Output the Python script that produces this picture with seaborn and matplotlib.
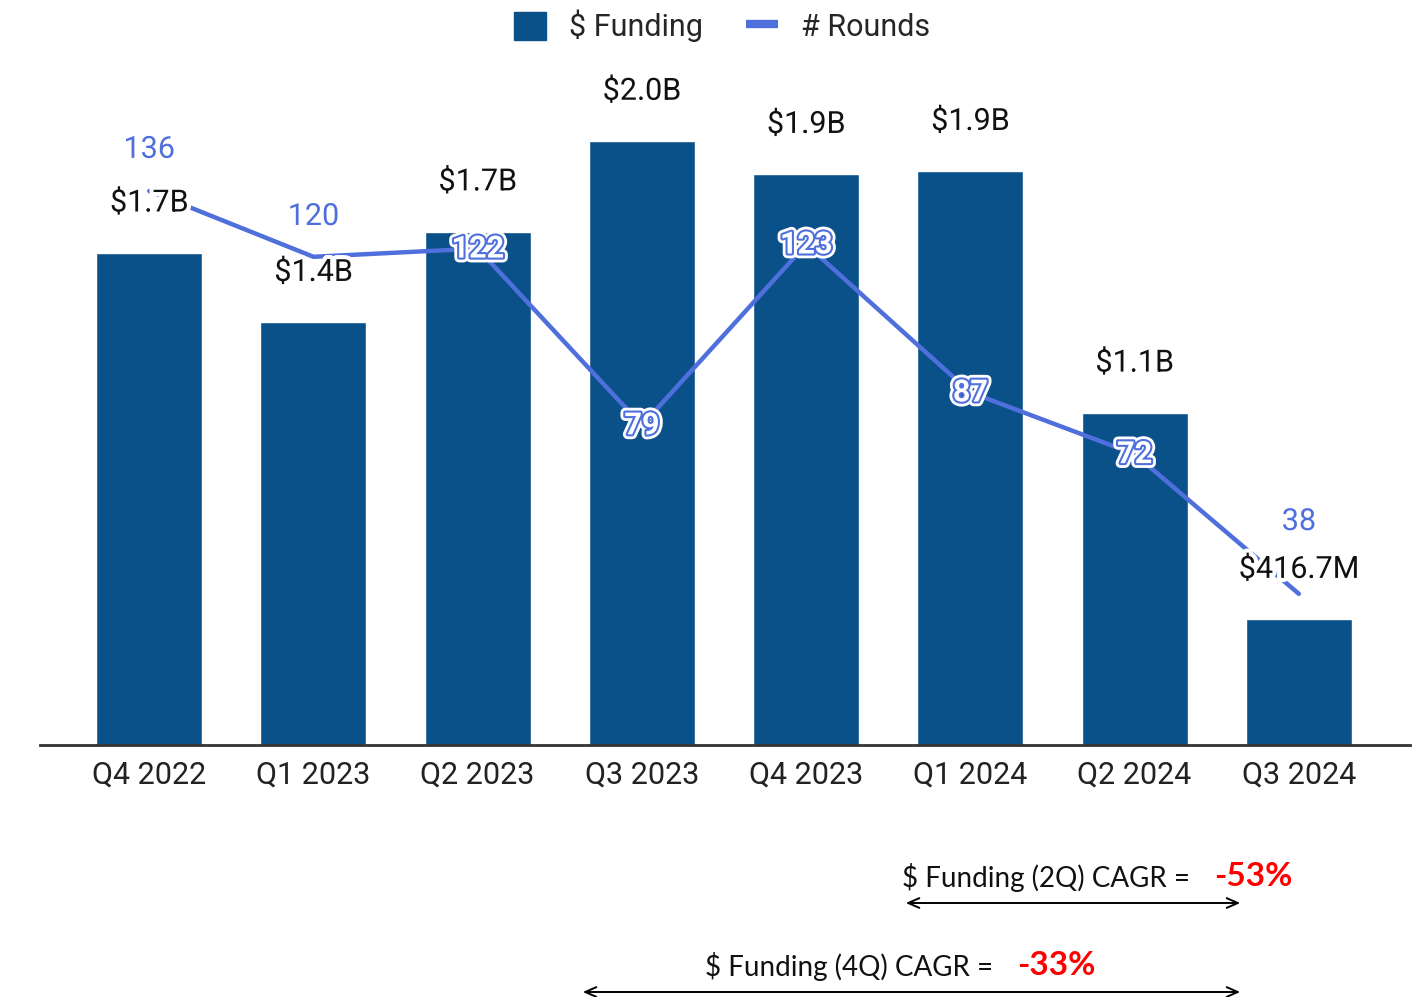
import numpy as np
import pandas as pd
import matplotlib
matplotlib.use("Agg")
import matplotlib.pyplot as plt
import matplotlib.patheffects as pe
from matplotlib.patches import Patch, FancyArrowPatch
from matplotlib.lines import Line2D
import seaborn as sns

quarters = ["Q4 2022", "Q1 2023", "Q2 2023", "Q3 2023", "Q4 2023", "Q1 2024", "Q2 2024", "Q3 2024"]
funding_b = [1.63, 1.40, 1.70, 2.00, 1.89, 1.90, 1.10, 0.4167]
funding_labels = ["$1.7B", "$1.4B", "$1.7B", "$2.0B", "$1.9B", "$1.9B", "$1.1B", "$416.7M"]
rounds = [136, 120, 122, 79, 123, 87, 72, 38]
cagr_2q = "-53%"
cagr_4q = "-33%"

BAR = "#0b5189"
LINE = "#4f6fdc"
W, H, DPI = 1422, 997, 100
FS = 22

sns.set_theme(style="white")
plt.rcParams["font.family"] = ["Roboto", "DejaVu Sans"]

df = pd.DataFrame({"quarter": quarters, "funding": funding_b, "rounds": rounds})

fig = plt.figure(figsize=(W / DPI, H / DPI), dpi=DPI)
ax = fig.add_axes([40 / W, (H - 745) / H, 1370 / W, 685 / H])
sns.barplot(data=df, x="quarter", y="funding", color=BAR, saturation=1,
            width=0.646, ax=ax, zorder=2)
ax.set_xlim(-0.665, 7.677)
ax.set_ylim(0, 685 / 302)
ax.set_xlabel("")
ax.set_ylabel("")
ax.set_yticks([])
ax.tick_params(axis="x", length=0, labelsize=FS, labelcolor="#222222", pad=11)
for s in ["top", "right", "left"]:
    ax.spines[s].set_visible(False)
ax.spines["bottom"].set_color("#333333")
ax.spines["bottom"].set_linewidth(2)

ax2 = ax.twinx()
sns.lineplot(data=df, x="quarter", y="rounds", ax=ax2, color=LINE, linewidth=3.2,
             sort=False, zorder=3, solid_capstyle="round")
ax2.set_ylim(5 / 4.11, 5 / 4.11 + 685 / 4.11)
ax2.set_yticks([])
ax2.set_ylabel("")
ax2.set_xlim(ax.get_xlim())
for s in ax2.spines.values():
    s.set_visible(False)

fig.canvas.draw()
halo = [pe.withStroke(linewidth=6, foreground="white")]
for i, (v, lab) in enumerate(zip(funding_b, funding_labels)):
    ax2.annotate(lab, xy=(i, v), xycoords=ax.transData, xytext=(0, 36),
                 textcoords="offset points", ha="center", va="center", fontsize=FS,
                 color="#111111", path_effects=halo, zorder=6)

above_dy = {0: 30, 1: 29, 7: 52}
for i, r in enumerate(rounds):
    py_round = ax2.transData.transform((i, r))[1]
    py_bar = ax.transData.transform((i, funding_b[i]))[1]
    if py_round > py_bar:
        ax2.annotate(str(r), xy=(i, r), xytext=(0, above_dy.get(i, 29)),
                     textcoords="offset points", ha="center", va="center",
                     fontsize=FS, color=LINE, path_effects=halo, zorder=7)
    else:
        ax2.annotate(str(r), xy=(i, r), xytext=(0, 0), textcoords="offset points",
                     ha="center", va="center", fontsize=FS, color="white",
                     fontweight="bold", zorder=7,
                     path_effects=[pe.Stroke(linewidth=7, foreground="white"),
                                   pe.Stroke(linewidth=3, foreground=LINE),
                                   pe.Normal()])

handles = [Patch(facecolor=BAR, edgecolor=BAR, label="$ Funding"),
           Line2D([0], [0], color=LINE, linewidth=6, solid_capstyle="butt", label="# Rounds")]
fig.legend(handles=handles, loc="center", bbox_to_anchor=(722 / W, 1 - 26 / H), ncol=2,
           frameon=False, fontsize=FS, handlelength=1.05, handleheight=1.05,
           columnspacing=1.4, handletextpad=0.75)

cfont = ["Lato", "DejaVu Sans"]
fig.text(1197 / W, 1 - 877 / H, "$ Funding (2Q) CAGR = ", ha="right", va="center",
         fontsize=20, family=cfont, color="#111111")
fig.text(1214 / W, 1 - 876 / H, cagr_2q, ha="left", va="center", fontsize=24,
         family=cfont, color="#ff0000", fontweight="bold")
fig.text(1000 / W, 1 - 966 / H, "$ Funding (4Q) CAGR = ", ha="right", va="center",
         fontsize=20, family=cfont, color="#111111")
fig.text(1017 / W, 1 - 965 / H, cagr_4q, ha="left", va="center", fontsize=24,
         family=cfont, color="#ff0000", fontweight="bold")
for x0, x1, y in [(903, 1243, 903), (580, 1243, 992)]:
    fig.add_artist(FancyArrowPatch(
        (x0 / W, 1 - y / H), (x1 / W, 1 - y / H), transform=fig.transFigure,
        arrowstyle="<->,head_length=8,head_width=3.5", color="black", linewidth=1.4,
        mutation_scale=1))

fig.savefig("out.png", dpi=DPI, facecolor="white")
